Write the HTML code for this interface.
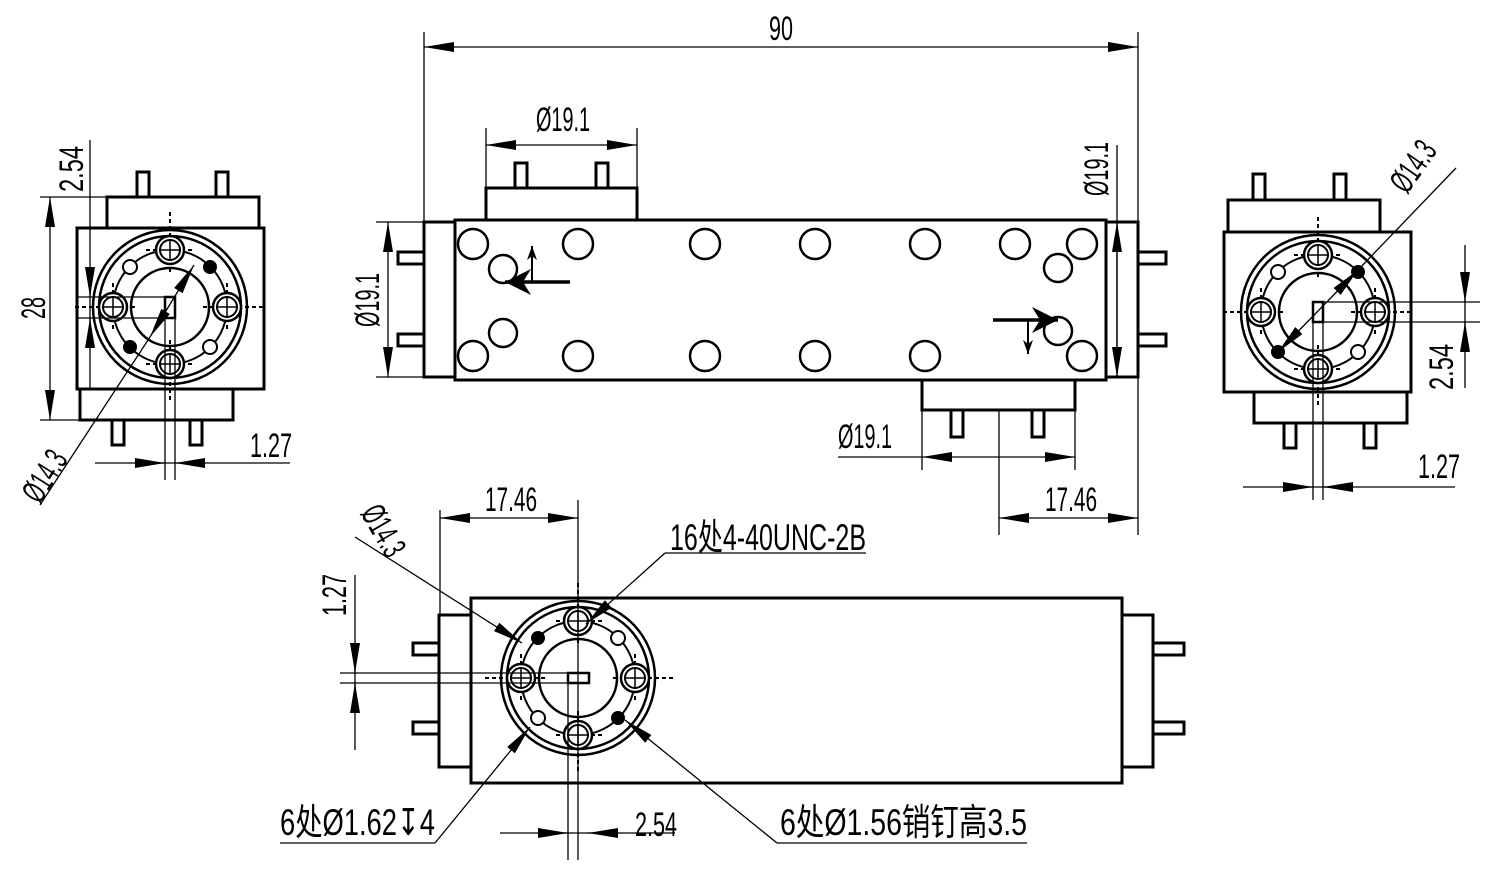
<!DOCTYPE html>
<html><head><meta charset="utf-8"><style>
html,body{margin:0;padding:0;background:#fff;}
svg{display:block;}
text{font-family:"Liberation Sans","Noto Sans CJK SC",sans-serif;fill:#000;}
</style></head><body>
<svg width="1509" height="891" viewBox="0 0 1509 891" xmlns="http://www.w3.org/2000/svg">
<defs>
<marker id="a" viewBox="0 0 30 10" refX="30" refY="5" markerWidth="30" markerHeight="10" markerUnits="userSpaceOnUse" orient="auto"><path d="M0,0 L30,5 L0,10 z" fill="#000"/></marker>
<marker id="b" viewBox="0 0 30 10" refX="0" refY="5" markerWidth="30" markerHeight="10" markerUnits="userSpaceOnUse" orient="auto"><path d="M30,0 L0,5 L30,10 z" fill="#000"/></marker>
<marker id="s" viewBox="0 0 14 10" refX="14" refY="5" markerWidth="14" markerHeight="10" markerUnits="userSpaceOnUse" orient="auto"><path d="M0,0 L14,5 L0,10 L4,5 z" fill="#000"/></marker>
<marker id="big" viewBox="0 0 26 26" refX="26" refY="13" markerWidth="26" markerHeight="26" markerUnits="userSpaceOnUse" orient="auto"><path d="M0,0 L26,13 L0,26 L8,13 z" fill="#000"/></marker>
<g id="bolt">
<circle r="14" fill="#fff" stroke="#000" stroke-width="2.5"/>
<circle r="10" fill="none" stroke="#000" stroke-width="2"/>
<line x1="-11" y1="0" x2="11" y2="0" stroke="#000" stroke-width="1.5"/>
<line x1="0" y1="-11" x2="0" y2="11" stroke="#000" stroke-width="1.5"/>
</g>
<g id="fl">
<circle r="77" fill="#fff" stroke="#000" stroke-width="2.5"/>
<circle r="71" fill="none" stroke="#000" stroke-width="2.5"/>
<circle r="57" fill="none" stroke="#000" stroke-width="2"/>
<circle r="39" fill="none" stroke="#000" stroke-width="2.5"/>
<g stroke="#000" stroke-width="2" stroke-dasharray="4,3" fill="none">
<line x1="-95" y1="0" x2="-33" y2="0"/><line x1="33" y1="0" x2="95" y2="0"/>
<line x1="0" y1="-95" x2="0" y2="-33"/><line x1="0" y1="33" x2="0" y2="95"/>
<line x1="-24" y1="-57" x2="24" y2="-57"/><line x1="-24" y1="57" x2="24" y2="57"/>
<line x1="-57" y1="-24" x2="-57" y2="24"/><line x1="57" y1="-24" x2="57" y2="24"/>
</g>
<use href="#bolt" x="0" y="-57"/><use href="#bolt" x="0" y="57"/>
<use href="#bolt" x="-57" y="0"/><use href="#bolt" x="57" y="0"/>
<circle cx="40" cy="-40" r="7" fill="#000"/>
<circle cx="-40" cy="40" r="7" fill="#000"/>
<circle cx="-40" cy="-40" r="7" fill="#fff" stroke="#000" stroke-width="2"/>
<circle cx="40" cy="40" r="7" fill="#fff" stroke="#000" stroke-width="2"/>
</g>
</defs>

<g fill="none" stroke="#000" stroke-width="3">
<path d="M137,197 V172 H149 V197 M216,197 V172 H228 V197"/>
<rect x="107" y="197" width="152" height="31" fill="#fff"/>
<path d="M112,420 V445 H124 V420 M190,420 V445 H202 V420"/>
<rect x="80" y="389" width="153" height="31" fill="#fff"/>
<rect x="77" y="228" width="187" height="161" fill="#fff"/>
</g>
<use href="#fl" x="170" y="307"/>
<rect x="165" y="297" width="10" height="21" fill="#fff" stroke="#000" stroke-width="2.5"/>

<g fill="none" stroke="#000" stroke-width="3">
<path d="M515,188 V163 H527 V188 M596,188 V163 H608 V188"/>
<rect x="486" y="188" width="151" height="32"/>
<path d="M951,410 V437 H963 V410 M1032,410 V437 H1044 V410"/>
<rect x="922" y="380" width="153" height="30"/>
<path d="M424,252 H398 V264 H424 M424,334 H398 V346 H424"/>
<rect x="424" y="222" width="31" height="155"/>
<path d="M1138,252 H1166 V264 H1138 M1138,334 H1166 V346 H1138"/>
<rect x="1106" y="222" width="32" height="155"/>
<rect x="455" y="220" width="651" height="160"/>
</g>
<g fill="none" stroke="#000" stroke-width="2.5">
<circle cx="473" cy="244" r="15"/><circle cx="578" cy="244" r="15"/><circle cx="705" cy="244" r="15"/><circle cx="815" cy="244" r="15"/><circle cx="925" cy="244" r="15"/><circle cx="1015" cy="244" r="15"/><circle cx="1082" cy="244" r="15"/>
<circle cx="473" cy="356" r="15"/><circle cx="578" cy="356" r="15"/><circle cx="705" cy="356" r="15"/><circle cx="815" cy="356" r="15"/><circle cx="925" cy="356" r="15"/><circle cx="1082" cy="356" r="15"/>
<circle cx="503" cy="269" r="14"/><circle cx="503" cy="333" r="14"/><circle cx="1058" cy="268" r="14"/><circle cx="1058" cy="331" r="14"/>
</g>
<line x1="570" y1="282" x2="505" y2="282" stroke="#000" stroke-width="3.5" marker-end="url(#big)"/>
<line x1="532" y1="282" x2="532" y2="246" stroke="#000" stroke-width="2" marker-end="url(#s)"/>
<line x1="993" y1="320" x2="1058" y2="320" stroke="#000" stroke-width="3.5" marker-end="url(#big)"/>
<line x1="1028" y1="320" x2="1028" y2="354" stroke="#000" stroke-width="2" marker-end="url(#s)"/>

<g fill="none" stroke="#000" stroke-width="3">
<path d="M1253,200 V174 H1265 V200 M1334,200 V174 H1346 V200"/>
<rect x="1228" y="200" width="152" height="32" fill="#fff"/>
<path d="M1284,422 V448 H1296 V422 M1364,422 V448 H1376 V422"/>
<rect x="1254" y="392" width="153" height="31" fill="#fff"/>
<rect x="1224" y="232" width="187" height="160" fill="#fff"/>
</g>
<use href="#fl" x="1318" y="312"/>
<rect x="1313" y="302" width="10" height="20" fill="#fff" stroke="#000" stroke-width="2.5"/>

<g fill="none" stroke="#000" stroke-width="3">
<path d="M439,643 H413 V655 H439 M439,722 H413 V734 H439"/>
<rect x="439" y="615" width="32" height="152"/>
<path d="M1153,643 H1184 V655 H1153 M1153,722 H1184 V734 H1153"/>
<rect x="1122" y="615" width="31" height="152"/>
<rect x="471" y="598" width="651" height="185"/>
</g>
<g transform="translate(578,678) scale(-1,1)"><use href="#fl"/></g>
<rect x="568" y="673" width="21" height="10" fill="#fff" stroke="#000" stroke-width="2.5"/>

<g stroke="#000" stroke-width="1.3" fill="none">
<line x1="424" y1="32" x2="424" y2="222"/><line x1="1138" y1="32" x2="1138" y2="535"/>
<line x1="424" y1="47" x2="1138" y2="47" marker-start="url(#b)" marker-end="url(#a)"/>
<line x1="486" y1="128" x2="486" y2="188"/><line x1="637" y1="128" x2="637" y2="188"/>
<line x1="486" y1="145" x2="637" y2="145" marker-start="url(#b)" marker-end="url(#a)"/>
<line x1="376" y1="222" x2="424" y2="222"/><line x1="376" y1="377" x2="424" y2="377"/>
<line x1="388" y1="222" x2="388" y2="377" marker-start="url(#b)" marker-end="url(#a)"/>
<line x1="1117" y1="145" x2="1117" y2="377" />
<line x1="1117" y1="222" x2="1117" y2="377" marker-start="url(#b)" marker-end="url(#a)"/>
<line x1="922" y1="410" x2="922" y2="470"/><line x1="1075" y1="410" x2="1075" y2="470"/>
<line x1="838" y1="457" x2="922" y2="457"/>
<line x1="922" y1="457" x2="1075" y2="457" marker-start="url(#b)" marker-end="url(#a)"/>
<line x1="999" y1="410" x2="999" y2="535"/>
<line x1="999" y1="518" x2="1138" y2="518" marker-start="url(#b)" marker-end="url(#a)"/>
<line x1="40" y1="197" x2="107" y2="197"/><line x1="40" y1="420" x2="80" y2="420"/>
<line x1="50" y1="197" x2="50" y2="420" marker-start="url(#b)" marker-end="url(#a)"/>
<line x1="90" y1="140" x2="90" y2="389"/>
<line x1="90" y1="267" x2="90" y2="297" marker-end="url(#a)"/>
<line x1="90" y1="348" x2="90" y2="318" marker-end="url(#a)"/>
<line x1="77" y1="297" x2="165" y2="297"/><line x1="77" y1="318" x2="165" y2="318"/>
<line x1="165" y1="318" x2="165" y2="480"/><line x1="175" y1="318" x2="175" y2="480"/>
<line x1="95" y1="463" x2="290" y2="463"/>
<line x1="135" y1="463" x2="165" y2="463" marker-end="url(#a)"/>
<line x1="205" y1="463" x2="175" y2="463" marker-end="url(#a)"/>
<line x1="40" y1="505" x2="150" y2="337"/>
<line x1="150" y1="337" x2="194" y2="265" marker-start="url(#b)" marker-end="url(#a)"/>
<line x1="1465" y1="245" x2="1465" y2="388"/>
<line x1="1465" y1="272" x2="1465" y2="302" marker-end="url(#a)"/>
<line x1="1465" y1="352" x2="1465" y2="322" marker-end="url(#a)"/>
<line x1="1320" y1="302" x2="1480" y2="302"/><line x1="1320" y1="322" x2="1480" y2="322"/>
<line x1="1313" y1="322" x2="1313" y2="500"/><line x1="1323" y1="322" x2="1323" y2="500"/>
<line x1="1243" y1="487" x2="1455" y2="487"/>
<line x1="1283" y1="487" x2="1313" y2="487" marker-end="url(#a)"/>
<line x1="1353" y1="487" x2="1323" y2="487" marker-end="url(#a)"/>
<line x1="1456" y1="168" x2="1358" y2="270"/>
<line x1="1358" y1="270" x2="1278" y2="352" marker-start="url(#b)" marker-end="url(#a)"/>
<line x1="440" y1="510" x2="440" y2="615"/><line x1="578" y1="500" x2="578" y2="860"/><line x1="568" y1="683" x2="568" y2="860"/>
<line x1="440" y1="518" x2="578" y2="518" marker-start="url(#b)" marker-end="url(#a)"/>
<line x1="340" y1="673" x2="572" y2="673"/><line x1="340" y1="683" x2="572" y2="683"/>
<line x1="355" y1="575" x2="355" y2="750"/>
<line x1="355" y1="643" x2="355" y2="673" marker-end="url(#a)"/>
<line x1="355" y1="713" x2="355" y2="683" marker-end="url(#a)"/>
<line x1="500" y1="833" x2="675" y2="833"/>
<line x1="538" y1="833" x2="568" y2="833" marker-end="url(#a)"/>
<line x1="618" y1="833" x2="588" y2="833" marker-end="url(#a)"/>
<line x1="355" y1="537" x2="522" y2="643" marker-end="url(#a)"/>
<line x1="866" y1="553" x2="665" y2="553"/><line x1="665" y1="553" x2="586" y2="624" marker-end="url(#a)"/>
<line x1="280" y1="843" x2="435" y2="843"/><line x1="435" y1="843" x2="530" y2="727" marker-end="url(#a)"/>
<line x1="1027" y1="843" x2="777" y2="843"/><line x1="777" y1="843" x2="625" y2="720" marker-end="url(#a)"/>
</g>

<g font-size="34">
<text x="769" y="40" textLength="24" lengthAdjust="spacingAndGlyphs">90</text>
<text x="536" y="131" textLength="54" lengthAdjust="spacingAndGlyphs">Ø19.1</text>
<text transform="translate(379,327) rotate(-90)" textLength="54" lengthAdjust="spacingAndGlyphs">Ø19.1</text>
<text transform="translate(1108,196) rotate(-90)" textLength="54" lengthAdjust="spacingAndGlyphs">Ø19.1</text>
<text x="838" y="448" textLength="54" lengthAdjust="spacingAndGlyphs">Ø19.1</text>
<text x="1045" y="511" textLength="52" lengthAdjust="spacingAndGlyphs">17.46</text>
<text x="485" y="511" textLength="52" lengthAdjust="spacingAndGlyphs">17.46</text>
<text transform="translate(45,319) rotate(-90)" textLength="22" lengthAdjust="spacingAndGlyphs">28</text>
<text transform="translate(83,192) rotate(-90)" textLength="46" lengthAdjust="spacingAndGlyphs">2.54</text>
<text x="250" y="457" textLength="42" lengthAdjust="spacingAndGlyphs">1.27</text>
<text transform="translate(40,505) rotate(-58)" textLength="54" lengthAdjust="spacingAndGlyphs">Ø14.3</text>
<text transform="translate(1453,390) rotate(-90)" textLength="46" lengthAdjust="spacingAndGlyphs">2.54</text>
<text x="1418" y="478" textLength="42" lengthAdjust="spacingAndGlyphs">1.27</text>
<text transform="translate(1407,195) rotate(-55)" textLength="54" lengthAdjust="spacingAndGlyphs">Ø14.3</text>
<text transform="translate(346,616) rotate(-90)" textLength="42" lengthAdjust="spacingAndGlyphs">1.27</text>
<text transform="translate(360,513) rotate(60)" textLength="54" lengthAdjust="spacingAndGlyphs">Ø14.3</text>
<text x="635" y="836" textLength="42" lengthAdjust="spacingAndGlyphs">2.54</text>
<text x="670" y="550" font-size="37" textLength="196" lengthAdjust="spacingAndGlyphs">16处4-40UNC-2B</text>
<text x="280" y="835" font-size="37" textLength="155" lengthAdjust="spacingAndGlyphs">6处Ø1.62↧4</text>
<text x="780" y="835" font-size="37" textLength="247" lengthAdjust="spacingAndGlyphs">6处Ø1.56销钉高3.5</text>
</g>
</svg>
</body></html>
